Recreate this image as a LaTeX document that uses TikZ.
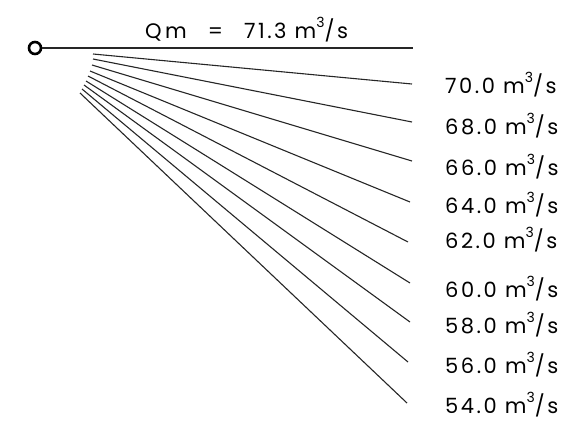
\documentclass[tikz,border=0pt]{standalone}
\usepackage{fontspec}
\setmainfont{Poppins}[LetterSpace=12]
\usetikzlibrary{positioning}
\newcommand{\cubed}{\raisebox{0.52em}{\fontsize{14}{14}\selectfont 3}}

\begin{document}
\begin{tikzpicture}[x=1pt,y=-1pt,
    flow/.style={line width=1.1pt,black!85},
    rate/.style={anchor=base west,inner sep=0pt,
      font=\fontsize{21}{22}\selectfont},
    gauge/.style={circle,draw,line width=2.6pt,minimum size=12pt,inner sep=0pt}
  ]
  \useasboundingbox (0,0) rectangle (574,429);

  % gauge point and mean flow
  \node[gauge] (src) at (35,48) {};
  \coordinate (qmend) at (413,48);
  \draw[flow] (src.east) -- (qmend);
  \node[rate] (qm) at (145,38) {Q\,m\quad=\quad71.3 m\cubed/s};

  % fan of flows
  \foreach \i/\sx/\sy/\ex/\ey/\ly/\val in {
      1/93/54/412/84/93/70.0,  2/93/59/412/122/134/68.0,
      3/92/65/412/161/175/66.0, 4/90/71/410/202/213/64.0,
      5/88/76/408/242/248/62.0, 6/86/81/410/283/297/60.0,
      7/84/85/410/322/333/58.0, 8/82/89/408/362/373/56.0,
      9/80/93/407/403/413/54.0}{
    \coordinate (s\i) at (\sx,\sy);
    \coordinate (e\i) at (\ex,\ey);
    \draw[flow] (s\i) -- (e\i);
    \node[rate] (r\i) at (445,\ly) {\val\ m\cubed/s};
  }
\end{tikzpicture}
\end{document}
